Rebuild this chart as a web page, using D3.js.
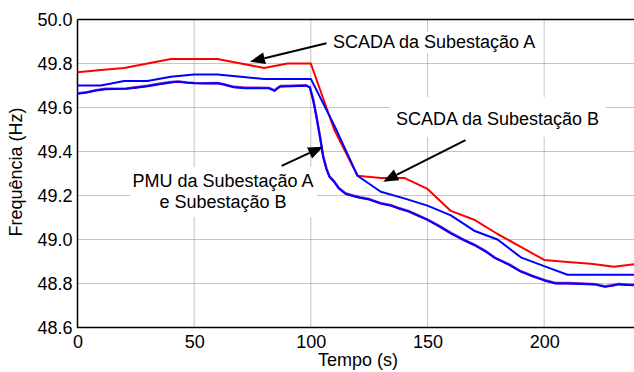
<!DOCTYPE html>
<html><head><meta charset="utf-8">
<script src="https://cdn.jsdelivr.net/npm/d3@7"></script>
<style>body{margin:0;background:#fff}svg{display:block}text{font-family:"Liberation Sans",Arial,sans-serif;fill:#000}</style>
</head><body><svg id="c" width="634" height="372"></svg>
<script>
// ---- data ----
const scadaTimes = [0,10,20,30,40,50,60,70,80,90,100,110,120,130,140,150,160,170,180,190,200,210,220,230,240];
const scadaA = [49.76,49.77,49.78,49.80,49.82,49.82,49.82,49.80,49.78,49.80,49.80,49.50,49.29,49.28,49.28,49.23,49.13,49.09,49.025,48.967,48.907,48.898,48.89,48.876,48.89];
const scadaB = [49.70,49.70,49.72,49.72,49.74,49.75,49.75,49.74,49.73,49.73,49.73,49.52,49.29,49.217,49.187,49.154,49.11,49.04,49.0,48.919,48.879,48.84,48.84,48.84,48.84];
const pmuTimes = [0,4,8,12,16,21,25,30,35,40,43,47,50,55,60,63,67,72,77,82,83.5,84.5,85.5,87,92,98,99.6,101,102.4,103.9,105.3,106.7,108,110,112,115,118,121,125,130,134,138,142,146,150,155,160,165,170,175,179,185,190,195,200,205,210,216,222,226,229,232,236,240];
const pmuB = [49.662,49.668,49.677,49.683,49.684,49.685,49.690,49.697,49.706,49.714,49.717,49.712,49.710,49.709,49.710,49.703,49.692,49.688,49.688,49.687,49.680,49.676,49.685,49.696,49.697,49.699,49.690,49.634,49.558,49.467,49.376,49.320,49.285,49.262,49.232,49.207,49.198,49.190,49.182,49.163,49.155,49.140,49.127,49.108,49.089,49.060,49.028,49.000,48.975,48.945,48.915,48.885,48.854,48.833,48.814,48.800,48.800,48.798,48.795,48.785,48.790,48.796,48.793,48.792];
const pmuA = [49.664,49.670,49.679,49.685,49.686,49.687,49.692,49.699,49.708,49.716,49.719,49.714,49.712,49.711,49.712,49.705,49.694,49.690,49.690,49.689,49.682,49.678,49.687,49.698,49.699,49.701,49.692,49.636,49.560,49.469,49.378,49.322,49.287,49.264,49.234,49.209,49.200,49.192,49.184,49.165,49.157,49.142,49.129,49.110,49.091,49.062,49.030,49.002,48.977,48.947,48.917,48.887,48.856,48.835,48.816,48.802,48.802,48.800,48.797,48.787,48.792,48.798,48.795,48.794];
const xTicks = [0,50,100,150,200];
const yTicks = [48.6,48.8,49.0,49.2,49.4,49.6,49.8,50.0];
const labels = {x:"Tempo (s)", y:"Frequência (Hz)", a:"SCADA da Subestação A", b:"SCADA da Subestação B", p1:"PMU da Subestação A", p2:"e Subestação B"};

// ---- chart ----
const svg = d3.select("#c");
const x = d3.scaleLinear([0,240],[77.5,637.5]);
const y = d3.scaleLinear([48.6,50],[327.5,19.5]);
const gridC = "#8a8a8a";

// grid
svg.append("g").selectAll("line.v").data(xTicks.slice(1)).join("line")
  .attr("x1",d=>x(d)).attr("x2",d=>x(d)).attr("y1",y(50)).attr("y2",y(48.6))
  .attr("stroke",gridC).attr("stroke-width",1).attr("stroke-dasharray","1,1");
svg.append("g").selectAll("line.h").data(yTicks.slice(1,-1)).join("line")
  .attr("x1",x(0)).attr("x2",634).attr("y1",d=>y(d)).attr("y2",d=>y(d))
  .attr("stroke",gridC).attr("stroke-width",1).attr("stroke-dasharray","1,1");

// white boxes behind annotation texts
const boxes = [[327,32,215,21],[390,97,216,40],[130,167,187,50]];
svg.append("g").selectAll("rect").data(boxes).join("rect")
  .attr("x",d=>d[0]).attr("y",d=>d[1]).attr("width",d=>d[2]).attr("height",d=>d[3]).attr("fill","#fff");

// axes
const fs = 18;
const xAxis = d3.axisBottom(x).tickValues(xTicks).tickSize(0).tickPadding(8).tickFormat(d3.format("d"));
const gx = svg.append("g").attr("transform",`translate(0,${y(48.6)})`).call(xAxis);
const yAxis = d3.axisLeft(y).tickValues(yTicks).tickSize(0).tickPadding(5).tickFormat(d3.format(".1f"));
const gy = svg.append("g").attr("transform",`translate(${x(0)},0)`).call(yAxis);
[gx,gy].forEach(g=>{g.select(".domain").remove();g.selectAll("text").attr("font-size",fs).attr("font-family","Liberation Sans, Arial, sans-serif").attr("fill","#000");});
svg.append("path").attr("d",`M${x(0)},${y(50)}V${y(48.6)}H634`).attr("fill","none").attr("stroke","#000").attr("stroke-width",1.5);
svg.append("line").attr("x1",x(0)).attr("x2",634).attr("y1",y(50)).attr("y2",y(50)).attr("stroke","#000").attr("stroke-width",1.5);

// lines
const clip = svg.append("clipPath").attr("id","pc").append("rect").attr("x",x(0)).attr("y",y(50)).attr("width",634-x(0)).attr("height",y(48.6)-y(50));
const line = d3.line().x(d=>x(d[0])).y(d=>y(d[1]));
const lg = svg.append("g").attr("clip-path","url(#pc)");
function draw(times, vals, color, w){
  lg.append("path").datum(times.map((t,i)=>[t,vals[i]])).attr("d",line)
    .attr("fill","none").attr("stroke",color).attr("stroke-width",w).attr("stroke-linejoin","round");
}
draw(scadaTimes, scadaA, "#ff0000", 2);
draw(scadaTimes, scadaB, "#0000ff", 2);
draw(pmuTimes, pmuA, "#a020c0", 2.4);
draw(pmuTimes, pmuB, "#0000ff", 2);

// arrows
const arrows = [[[106.7,49.892],[73.9,49.808]],[[166.3,49.452],[131,49.263]],[[87.5,49.335],[105.3,49.422]]];
arrows.forEach(([s,e])=>{
  const x1=x(s[0]),y1=y(s[1]),x2=x(e[0]),y2=y(e[1]);
  const ang=Math.atan2(y2-y1,x2-x1), L=15, W=6;
  const bx=x2-L*Math.cos(ang), by=y2-L*Math.sin(ang);
  svg.append("line").attr("x1",x1).attr("y1",y1).attr("x2",bx).attr("y2",by).attr("stroke","#000").attr("stroke-width",2);
  const px=-Math.sin(ang), py=Math.cos(ang);
  svg.append("path").attr("d",`M${x2},${y2}L${bx+W*px},${by+W*py}L${bx-W*px},${by-W*py}Z`).attr("fill","#000");
});

// texts
const t = (tx,ty,s,anchor)=>svg.append("text").attr("x",tx).attr("y",ty).attr("font-size",fs).attr("text-anchor",anchor||"start").text(s);
t(333,48,labels.a);
t(396,125,labels.b);
t(223,187,labels.p1,"middle");
t(223,208,labels.p2,"middle");
t(358,366,labels.x,"middle");
svg.append("text").attr("transform","translate(22,172) rotate(-90)").attr("font-size",fs).attr("text-anchor","middle").text(labels.y);
</script></body></html>
